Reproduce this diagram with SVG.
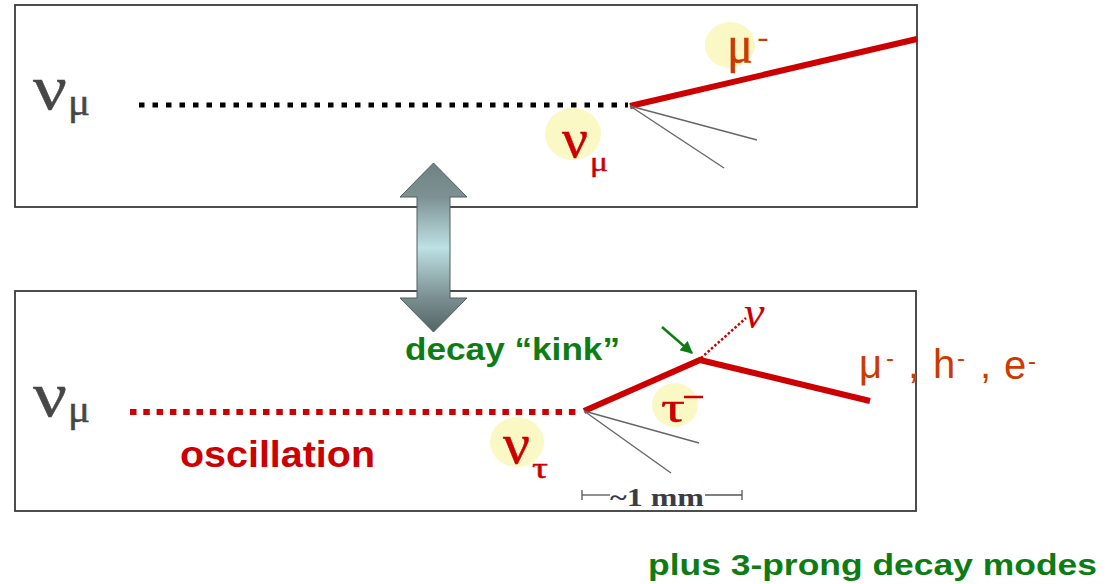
<svg xmlns="http://www.w3.org/2000/svg" width="1107" height="584" viewBox="0 0 1107 584">
<style>
.box{fill:#fff;stroke:#3a3a3a;stroke-width:1.8}
.glow{fill:#faf8c4}
.serif{font-family:"Liberation Serif","DejaVu Serif",serif}
.greek{font-family:"Liberation Serif","DejaVu Serif",serif;stroke-width:0.45}
.sans{font-family:"Liberation Sans",Arial,sans-serif}
.gray{fill:#474747;stroke:#474747}
.red{fill:#cc0000}
.greek.red{stroke:#cc0000}
.orange{fill:#cc3a00}
.greek.orange{stroke:#cc3a00}
.green{fill:#0e7c14}
.track{stroke:#cc0000;stroke-width:6;fill:none}
.thin{stroke:#666;stroke-width:1.4;fill:none}
</style>
<defs>
<linearGradient id="arrowGrad" x1="0" y1="163" x2="0" y2="332" gradientUnits="userSpaceOnUse">
<stop offset="0" stop-color="#6f8183"/>
<stop offset="0.2" stop-color="#7d9193"/>
<stop offset="0.5" stop-color="#bde1e4"/>
<stop offset="0.8" stop-color="#7a8e90"/>
<stop offset="1" stop-color="#546465"/>
</linearGradient>
<marker id="greenHead" viewBox="0 0 10 10" refX="9" refY="5" markerWidth="5" markerHeight="5" orient="auto" markerUnits="strokeWidth">
<path d="M0,0 L10,5 L0,10 Z" fill="#0e7c14"/>
</marker>
</defs>

<g id="top-panel">
<rect class="box" x="15" y="5" width="902" height="202"/>
</g>
<g id="bottom-panel">
<rect class="box" x="15" y="291" width="901" height="220"/>
</g>

<g id="connectors">
<line x1="139" y1="105" x2="628" y2="105" stroke="#000" stroke-width="5" stroke-dasharray="5.5 8"/>
<line x1="630" y1="106" x2="917" y2="39" class="track"/>
<line class="thin" x1="630" y1="106" x2="757" y2="140"/>
<line class="thin" x1="630" y1="106" x2="724" y2="168"/>
<line x1="130" y1="412" x2="580" y2="412" stroke="#cc0000" stroke-width="6" stroke-dasharray="6.5 6.8"/>
<polyline class="track" points="584,411 700,360 870,401" stroke-linejoin="miter"/>
<line x1="701" y1="358" x2="746" y2="318" stroke="#cc0000" stroke-width="2.5" stroke-dasharray="2.5 2"/>
<line class="thin" x1="584" y1="411" x2="699" y2="443"/>
<line class="thin" x1="584" y1="411" x2="671" y2="473"/>
<line x1="662" y1="327" x2="692" y2="353" stroke="#0e7c14" stroke-width="2.5" marker-end="url(#greenHead)"/>
</g>

<g id="double-arrow">
<polygon points="433.5,163 467,197 450,197 450,298 467,298 433.5,332 400,298 417,298 417,197 400,197" fill="url(#arrowGrad)" stroke="#4f5e60" stroke-width="1"/>
</g>

<g id="label-numu-top">
<text class="greek gray" x="33" y="109" font-size="64" textLength="34" lengthAdjust="spacingAndGlyphs">ν</text>
<text class="greek gray" x="68" y="115" font-size="37" textLength="22" lengthAdjust="spacingAndGlyphs">μ</text>
</g>

<g id="label-muminus-top">
<ellipse class="glow" cx="730" cy="45" rx="25" ry="23"/>
<text class="greek orange" x="727" y="62" font-size="52" textLength="26" lengthAdjust="spacingAndGlyphs">μ</text>
<text class="sans orange" x="757" y="47" font-size="28" textLength="12" lengthAdjust="spacingAndGlyphs">-</text>
</g>

<g id="label-numu-vertex">
<ellipse class="glow" cx="573" cy="134" rx="28" ry="26"/>
<text class="greek red" x="562" y="157" font-size="54" textLength="26" lengthAdjust="spacingAndGlyphs">ν</text>
<text class="greek red" x="590" y="171" font-size="27" textLength="18" lengthAdjust="spacingAndGlyphs">μ</text>
</g>

<g id="label-numu-bottom">
<text class="greek gray" x="33" y="416" font-size="64" textLength="34" lengthAdjust="spacingAndGlyphs">ν</text>
<text class="greek gray" x="68" y="422" font-size="37" textLength="22" lengthAdjust="spacingAndGlyphs">μ</text>
</g>

<g id="label-oscillation">
<text class="sans red" x="180" y="467" font-size="37" font-weight="bold" textLength="195" lengthAdjust="spacingAndGlyphs">oscillation</text>
</g>

<g id="label-nutau">
<ellipse class="glow" cx="517" cy="442" rx="27" ry="25"/>
<text class="greek red" x="503" y="463" font-size="56" textLength="27" lengthAdjust="spacingAndGlyphs">ν</text>
<text class="greek red" x="532" y="478" font-size="30" textLength="16" lengthAdjust="spacingAndGlyphs">τ</text>
</g>

<g id="label-tau">
<ellipse class="glow" cx="675" cy="405" rx="23" ry="22"/>
<text class="greek red" x="661" y="422" font-size="44" textLength="24" lengthAdjust="spacingAndGlyphs">τ</text>
<line x1="684" y1="397" x2="703" y2="397" stroke="#cc0000" stroke-width="2.5"/>
</g>

<g id="label-kink">
<text class="sans green" x="405" y="360" font-size="31" font-weight="bold" textLength="215" lengthAdjust="spacingAndGlyphs">decay “kink”</text>
</g>

<g id="label-nu">
<text class="serif red" x="744" y="328" font-size="46" font-style="italic">ν</text>
</g>

<g id="label-daughters">
<text class="sans orange" x="859" y="378" font-size="40">μ</text>
<text class="sans orange" x="886" y="366" font-size="24">-</text>
<text class="sans orange" x="908" y="378" font-size="40">,</text>
<text class="sans orange" x="933" y="378" font-size="40">h</text>
<text class="sans orange" x="957" y="366" font-size="24">-</text>
<text class="sans orange" x="980" y="378" font-size="40">,</text>
<text class="sans orange" x="1004" y="379" font-size="40">e</text>
<text class="sans orange" x="1028" y="369" font-size="24">-</text>
</g>

<g id="scale-1mm">
<line x1="582" y1="495" x2="610" y2="495" stroke="#555" stroke-width="1.3"/>
<line x1="582" y1="490" x2="582" y2="500" stroke="#555" stroke-width="1.3"/>
<line x1="705" y1="495" x2="742" y2="495" stroke="#555" stroke-width="1.3"/>
<line x1="742" y1="490" x2="742" y2="500" stroke="#555" stroke-width="1.3"/>
<text class="serif" x="610" y="506" font-size="25" font-weight="bold" fill="#3c3c46" textLength="94" lengthAdjust="spacingAndGlyphs">~1 mm</text>
</g>

<g id="label-3prong">
<text class="sans green" x="648" y="575" font-size="29" font-weight="bold" textLength="449" lengthAdjust="spacingAndGlyphs">plus 3-prong decay modes</text>
</g>
</svg>
